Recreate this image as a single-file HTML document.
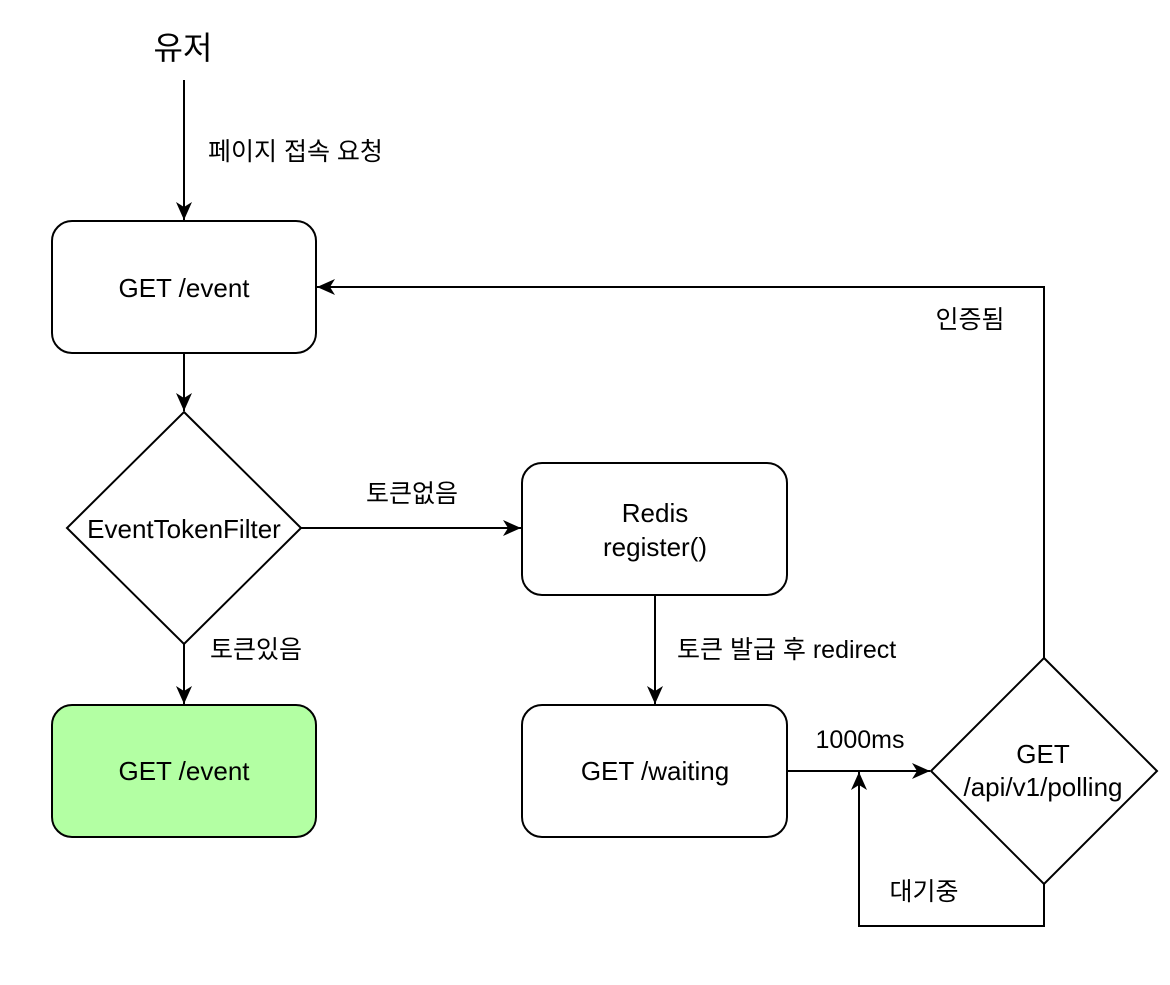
<!DOCTYPE html>
<html><head><meta charset="utf-8"><style>
html,body{margin:0;padding:0;background:#fff;}
svg text{font-family:"Liberation Sans","Noto Sans CJK KR",sans-serif;fill:#000;}
</style></head><body>
<svg width="1170" height="980" viewBox="0 0 1170 980" xmlns="http://www.w3.org/2000/svg">
<defs>
<marker id="a" markerWidth="20" markerHeight="20" refX="18" refY="8" orient="auto" markerUnits="userSpaceOnUse">
<path d="M0,0 L18,8 L0,16 L5,8 Z" fill="#000"/>
</marker>
</defs>
<g stroke="#000" stroke-width="2" fill="none">
<line x1="184" y1="80" x2="184" y2="220" marker-end="url(#a)"/>
<rect x="52" y="221" width="264" height="132" rx="20" fill="#fff"/>
<line x1="184" y1="353" x2="184" y2="411" marker-end="url(#a)"/>
<polygon points="184,412 301,528 184,644 67,528" fill="#fff"/>
<line x1="301" y1="528" x2="521" y2="528" marker-end="url(#a)"/>
<rect x="522" y="463" width="265" height="132" rx="20" fill="#fff"/>
<line x1="655" y1="595" x2="655" y2="704" marker-end="url(#a)"/>
<rect x="522" y="705" width="265" height="132" rx="20" fill="#fff"/>
<line x1="184" y1="644" x2="184" y2="704" marker-end="url(#a)"/>
<rect x="52" y="705" width="264" height="132" rx="20" fill="#b3ffa3"/>
<line x1="787" y1="771" x2="930" y2="771" marker-end="url(#a)"/>
<polygon points="1044,658 1157,771 1044,884 931,771" fill="#fff"/>
<polyline points="1044,884 1044,926 859,926 859,772" marker-end="url(#a)"/>
<polyline points="1044,658 1044,287 317,287" marker-end="url(#a)"/>
</g>
<text x="183" y="59" font-size="32" text-anchor="middle">유저</text>
<text x="208" y="160" font-size="25">페이지 접속 요청</text>
<text x="184" y="297" font-size="26" text-anchor="middle">GET /event</text>
<text x="184" y="538" font-size="26" text-anchor="middle">EventTokenFilter</text>
<text x="412" y="502" font-size="25" text-anchor="middle">토큰없음</text>
<text x="655" y="522" font-size="26" text-anchor="middle">Redis</text>
<text x="655" y="556" font-size="26" text-anchor="middle">register()</text>
<text x="677" y="658" font-size="25">토큰 발급 후 redirect</text>
<text x="655" y="780" font-size="26" text-anchor="middle">GET /waiting</text>
<text x="256" y="658" font-size="25" text-anchor="middle">토큰있음</text>
<text x="184" y="780" font-size="26" text-anchor="middle">GET /event</text>
<text x="860" y="748" font-size="25" text-anchor="middle">1000ms</text>
<text x="1043" y="763" font-size="26" text-anchor="middle">GET</text>
<text x="1043" y="796" font-size="26" text-anchor="middle">/api/v1/polling</text>
<text x="924" y="900" font-size="25" text-anchor="middle">대기중</text>
<text x="970" y="328" font-size="25" text-anchor="middle">인증됨</text>
</svg>
</body></html>
